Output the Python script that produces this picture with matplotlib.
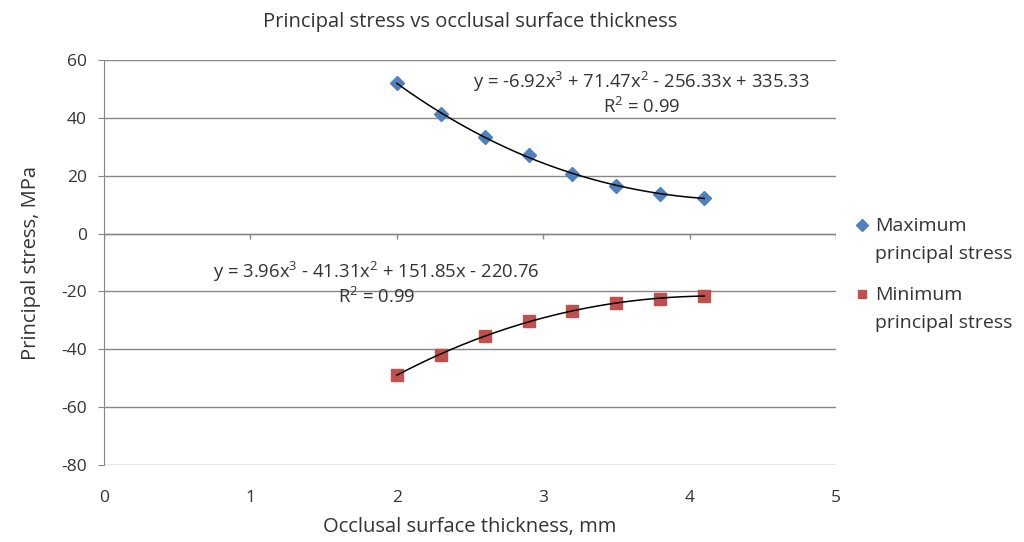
import numpy as np
import matplotlib
matplotlib.use('Agg')
import matplotlib.pyplot as plt
from matplotlib.legend_handler import HandlerLine2D

plt.rcParams['font.family'] = ['Open Sans', 'DejaVu Sans']
plt.rcParams['axes.unicode_minus'] = False
plt.rcParams['mathtext.fontset'] = 'custom'
plt.rcParams['mathtext.rm'] = 'Open Sans'

# data
thickness = [2.0, 2.3, 2.6, 2.9, 3.2, 3.5, 3.8, 4.1]
max_stress = [52.2, 41.2, 33.3, 27.1, 20.5, 16.5, 13.8, 12.2]
min_stress = [-48.8, -42.0, -35.4, -30.2, -26.9, -23.9, -22.5, -21.5]
eq_max = 'y = -6.92x$^3$ + 71.47x$^2$ - 256.33x + 335.33'
eq_min = 'y = 3.96x$^3$ - 41.31x$^2$ + 151.85x - 220.76'
r2_text = 'R$^2$ = 0.99'
x_ticks = [0, 1, 2, 3, 4, 5]
y_ticks = [60, 40, 20, 0, -20, -40, -60, -80]

blue = '#4F81BD'
red = '#C0504D'
grid_c = '#878787'
txt_c = '#333333'


class TopLineHandler(HandlerLine2D):
    # excel puts the legend marker level with the first line of the label
    def create_artists(self, legend, orig_handle, xdescent, ydescent, width, height, fontsize, trans):
        arts = super().create_artists(legend, orig_handle, xdescent, ydescent, width, height, fontsize, trans)
        for a in arts:
            a.set_ydata(np.asarray(a.get_ydata()) + 11)
        return arts


fig = plt.figure(figsize=(10.24, 5.42), dpi=100)
ax = fig.add_axes([104 / 1024, 1 - 465 / 542, 732 / 1024, 405 / 542])

# cubic trend lines
xs = np.linspace(thickness[0], thickness[-1], 200)
for ys, col, mk, ms, lab in [(max_stress, blue, 'D', 7.5, 'Maximum\nprincipal stress'),
                            (min_stress, red, 's', 8.5, 'Minimum\nprincipal stress')]:
    p = np.polyfit(thickness, ys, 3)
    ax.plot(thickness, ys, linestyle='none', marker=mk, markersize=ms, color=col,
            markeredgecolor=col, label=lab, zorder=3)
    ax.plot(xs, np.polyval(p, xs), color='black', lw=1.1, zorder=4)

ax.set_xlim(0, 5)
ax.set_ylim(-80, 60)
ax.set_xticks(x_ticks)
ax.set_yticks(y_ticks)
ax.yaxis.grid(True, color=grid_c, lw=1)
ax.set_axisbelow(True)
for s in ['top', 'right', 'bottom']:
    ax.spines[s].set_visible(False)
ax.spines['left'].set_color(grid_c)
ax.tick_params(axis='y', direction='out', length=4.5, color=grid_c, labelsize=12.5, labelcolor=txt_c, pad=8)
ax.tick_params(axis='x', length=0, labelsize=12.5, labelcolor=txt_c, pad=18)
# horizontal axis crosses at zero, excel style
ax.axhline(0, color=grid_c, lw=1)
ax.vlines(x_ticks, -1.8, 0, color=grid_c, lw=1)

ax.text(3.67, 52.3, eq_max, ha='center', va='center', fontsize=13.3, color=txt_c)
ax.text(3.67, 43.8, r2_text, ha='center', va='center', fontsize=13.3, color=txt_c)
ax.text(1.86, -13.2, eq_min, ha='center', va='center', fontsize=13.3, color=txt_c)
ax.text(1.86, -21.8, r2_text, ha='center', va='center', fontsize=13.3, color=txt_c)

ax.set_title('Principal stress vs occlusal surface thickness', fontsize=14.5, color=txt_c, pad=24)
ax.set_xlabel('Occlusal surface thickness, mm', fontsize=14.5, color=txt_c, labelpad=8)
ax.set_ylabel('Principal stress, MPa', fontsize=14.5, color=txt_c, labelpad=14)

leg = ax.legend(loc='center left', bbox_to_anchor=(0.995, 0.47), frameon=False,
                fontsize=14, handletextpad=0.0, labelspacing=1.15, handlelength=1.3,
                markerscale=0.75, labelcolor=txt_c, handler_map={plt.Line2D: TopLineHandler()})
for t in leg.get_texts():
    t.set_linespacing(1.75)

fig.savefig('out.png', dpi=100)
